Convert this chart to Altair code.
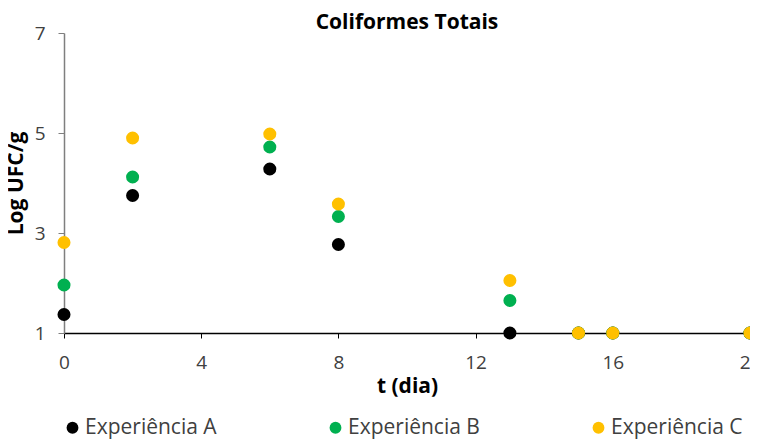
import altair as alt
import pandas as pd

days = [0, 2, 6, 8, 13, 15, 16, 20]
series_names = ["Experiência A", "Experiência B", "Experiência C"]
exp_a = [1.37, 3.75, 4.28, 2.77, 1.00, 1.00, 1.00, 1.00]
exp_b = [1.96, 4.12, 4.72, 3.33, 1.65, 1.00, 1.00, 1.00]
exp_c = [2.81, 4.90, 4.98, 3.58, 2.05, 1.00, 1.00, 1.00]
colors = ["#000000", "#00B050", "#FFC000"]
x_ticks = [0, 4, 8, 12, 16, 20]
y_ticks = [1, 3, 5, 7]

rows = []
for i, (name, vals) in enumerate(zip(series_names, [exp_a, exp_b, exp_c])):
    for d, v in zip(days, vals):
        rows.append({"t": d, "v": v, "serie": name, "ord": i})
df = pd.DataFrame(rows)

FONT = "Open Sans"

chart = alt.Chart(df).mark_circle(size=170, opacity=1, clip=False).encode(
    x=alt.X("t:Q", title="t (dia)",
            scale=alt.Scale(domain=[0, 20], nice=False, zero=False),
            axis=alt.Axis(values=x_ticks, grid=False, tickSize=5, labelPadding=15,
                          domainColor="#000000", domainWidth=1.5, tickColor="#000000",
                          labelColor="#404040", labelFontSize=19, labelFont=FONT,
                          titleFont=FONT, titleFontSize=21, titleFontWeight="bold",
                          titleColor="#000000", titlePadding=3, labelFlush=False)),
    y=alt.Y("v:Q", title="Log UFC/g",
            scale=alt.Scale(domain=[1, 7], nice=False, zero=False),
            axis=alt.Axis(values=y_ticks, grid=False, tickSize=6, labelPadding=13,
                          domainColor="#7f7f7f", domainWidth=1.5, tickColor="#7f7f7f",
                          labelColor="#404040", labelFontSize=19, labelFont=FONT,
                          titleFont=FONT, titleFontSize=21, titleFontWeight="bold",
                          titleColor="#000000", titlePadding=8)),
    color=alt.Color("serie:N", title=None,
                    scale=alt.Scale(domain=series_names, range=colors),
                    legend=alt.Legend(orient="none", legendX=-2, legendY=384,
                                      direction="horizontal", columns=3,
                                      columnPadding=108, symbolType="circle",
                                      symbolSize=140, symbolStrokeWidth=0,
                                      labelFont=FONT, labelFontSize=21,
                                      labelColor="#404040", labelOffset=2)),
    order=alt.Order("ord:Q"),
).properties(
    width=686, height=300,
    title=alt.TitleParams("Coliformes Totais", font=FONT, fontSize=21,
                          fontWeight="bold", color="#000000", frame="group",
                          anchor="middle", offset=-9),
    autosize=alt.AutoSizeParams(type="none"),
    padding={"left": 56, "top": 25, "right": 0, "bottom": 112},
).configure_view(stroke=None)

chart.save("out.html", embed_options={"renderer": "svg", "actions": False})
